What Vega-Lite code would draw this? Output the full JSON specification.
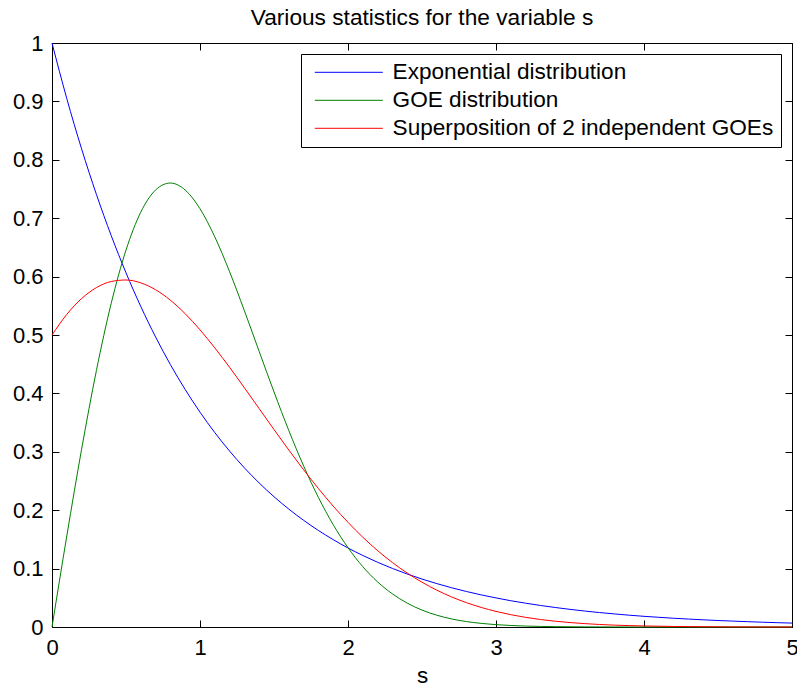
{
  "$schema": "https://vega.github.io/schema/vega-lite/v6.json",
  "width": 740,
  "height": 584,
  "autosize": {"type": "none"},
  "padding": {"left": 52, "top": 43, "right": 5, "bottom": 59},
  "background": "white",
  "config": {
    "font": "Liberation Sans",
    "view": {"stroke": "#000000", "strokeWidth": 1},
    "axis": {"labelFont": "Liberation Sans", "titleFont": "Liberation Sans", "labelColor": "#000000", "titleColor": "#000000", "tickColor": "#000000", "grid": false, "domain": false}
  },
  "title": {"text": "Various statistics for the variable s", "fontSize": 22.7, "fontWeight": "normal", "font": "Liberation Sans", "color": "#000000", "offset": 2, "anchor": "middle"},
  "data": {"values": [
    {"s":0,"p":1,"c":"Exponential distribution"},
    {"s":0.1,"p":0.9048,"c":"Exponential distribution"},
    {"s":0.2,"p":0.8187,"c":"Exponential distribution"},
    {"s":0.3,"p":0.7408,"c":"Exponential distribution"},
    {"s":0.4,"p":0.6703,"c":"Exponential distribution"},
    {"s":0.5,"p":0.6065,"c":"Exponential distribution"},
    {"s":0.6,"p":0.5488,"c":"Exponential distribution"},
    {"s":0.7,"p":0.4966,"c":"Exponential distribution"},
    {"s":0.8,"p":0.4493,"c":"Exponential distribution"},
    {"s":0.9,"p":0.4066,"c":"Exponential distribution"},
    {"s":1.0,"p":0.3679,"c":"Exponential distribution"},
    {"s":1.1,"p":0.3329,"c":"Exponential distribution"},
    {"s":1.2,"p":0.3012,"c":"Exponential distribution"},
    {"s":1.3,"p":0.2725,"c":"Exponential distribution"},
    {"s":1.4,"p":0.2466,"c":"Exponential distribution"},
    {"s":1.5,"p":0.2231,"c":"Exponential distribution"},
    {"s":1.6,"p":0.2019,"c":"Exponential distribution"},
    {"s":1.7,"p":0.1827,"c":"Exponential distribution"},
    {"s":1.8,"p":0.1653,"c":"Exponential distribution"},
    {"s":1.9,"p":0.1496,"c":"Exponential distribution"},
    {"s":2.0,"p":0.1353,"c":"Exponential distribution"},
    {"s":2.1,"p":0.1225,"c":"Exponential distribution"},
    {"s":2.2,"p":0.1108,"c":"Exponential distribution"},
    {"s":2.3,"p":0.1003,"c":"Exponential distribution"},
    {"s":2.4,"p":0.0907,"c":"Exponential distribution"},
    {"s":2.5,"p":0.0821,"c":"Exponential distribution"},
    {"s":2.6,"p":0.0743,"c":"Exponential distribution"},
    {"s":2.7,"p":0.0672,"c":"Exponential distribution"},
    {"s":2.8,"p":0.0608,"c":"Exponential distribution"},
    {"s":2.9,"p":0.0550,"c":"Exponential distribution"},
    {"s":3.0,"p":0.0498,"c":"Exponential distribution"},
    {"s":3.1,"p":0.0450,"c":"Exponential distribution"},
    {"s":3.2,"p":0.0408,"c":"Exponential distribution"},
    {"s":3.3,"p":0.0369,"c":"Exponential distribution"},
    {"s":3.4,"p":0.0334,"c":"Exponential distribution"},
    {"s":3.5,"p":0.0302,"c":"Exponential distribution"},
    {"s":3.6,"p":0.0273,"c":"Exponential distribution"},
    {"s":3.7,"p":0.0247,"c":"Exponential distribution"},
    {"s":3.8,"p":0.0224,"c":"Exponential distribution"},
    {"s":3.9,"p":0.0202,"c":"Exponential distribution"},
    {"s":4.0,"p":0.0183,"c":"Exponential distribution"},
    {"s":4.1,"p":0.0166,"c":"Exponential distribution"},
    {"s":4.2,"p":0.0150,"c":"Exponential distribution"},
    {"s":4.3,"p":0.0136,"c":"Exponential distribution"},
    {"s":4.4,"p":0.0123,"c":"Exponential distribution"},
    {"s":4.5,"p":0.0111,"c":"Exponential distribution"},
    {"s":4.6,"p":0.0101,"c":"Exponential distribution"},
    {"s":4.7,"p":0.0091,"c":"Exponential distribution"},
    {"s":4.8,"p":0.0082,"c":"Exponential distribution"},
    {"s":4.9,"p":0.0074,"c":"Exponential distribution"},
    {"s":5.0,"p":0.0067,"c":"Exponential distribution"},
    {"s":0,"p":0,"c":"GOE distribution"},
    {"s":0.1,"p":0.1559,"c":"GOE distribution"},
    {"s":0.2,"p":0.3044,"c":"GOE distribution"},
    {"s":0.3,"p":0.4391,"c":"GOE distribution"},
    {"s":0.4,"p":0.5541,"c":"GOE distribution"},
    {"s":0.5,"p":0.6454,"c":"GOE distribution"},
    {"s":0.6,"p":0.7104,"c":"GOE distribution"},
    {"s":0.7,"p":0.7483,"c":"GOE distribution"},
    {"s":0.8,"p":0.7602,"c":"GOE distribution"},
    {"s":0.9,"p":0.7483,"c":"GOE distribution"},
    {"s":1.0,"p":0.7162,"c":"GOE distribution"},
    {"s":1.1,"p":0.6680,"c":"GOE distribution"},
    {"s":1.2,"p":0.6083,"c":"GOE distribution"},
    {"s":1.3,"p":0.5415,"c":"GOE distribution"},
    {"s":1.4,"p":0.4718,"c":"GOE distribution"},
    {"s":1.5,"p":0.4025,"c":"GOE distribution"},
    {"s":1.6,"p":0.3365,"c":"GOE distribution"},
    {"s":1.7,"p":0.2759,"c":"GOE distribution"},
    {"s":1.8,"p":0.2219,"c":"GOE distribution"},
    {"s":1.9,"p":0.1752,"c":"GOE distribution"},
    {"s":2.0,"p":0.1358,"c":"GOE distribution"},
    {"s":2.1,"p":0.1033,"c":"GOE distribution"},
    {"s":2.2,"p":0.0772,"c":"GOE distribution"},
    {"s":2.3,"p":0.0567,"c":"GOE distribution"},
    {"s":2.4,"p":0.0409,"c":"GOE distribution"},
    {"s":2.5,"p":0.0290,"c":"GOE distribution"},
    {"s":2.6,"p":0.0202,"c":"GOE distribution"},
    {"s":2.7,"p":0.0138,"c":"GOE distribution"},
    {"s":2.8,"p":0.0093,"c":"GOE distribution"},
    {"s":2.9,"p":0.0062,"c":"GOE distribution"},
    {"s":3.0,"p":0.0040,"c":"GOE distribution"},
    {"s":3.1,"p":0.0026,"c":"GOE distribution"},
    {"s":3.2,"p":0.0016,"c":"GOE distribution"},
    {"s":3.3,"p":0.0010,"c":"GOE distribution"},
    {"s":3.4,"p":0.0006,"c":"GOE distribution"},
    {"s":3.5,"p":0.0004,"c":"GOE distribution"},
    {"s":3.6,"p":0.0002,"c":"GOE distribution"},
    {"s":3.8,"p":0.0001,"c":"GOE distribution"},
    {"s":4.0,"p":0.0000,"c":"GOE distribution"},
    {"s":4.5,"p":0.0000,"c":"GOE distribution"},
    {"s":5.0,"p":0.0000,"c":"GOE distribution"},
    {"s":0,"p":0.5,"c":"Superposition of 2 independent GOEs"},
    {"s":0.1,"p":0.5353,"c":"Superposition of 2 independent GOEs"},
    {"s":0.2,"p":0.5624,"c":"Superposition of 2 independent GOEs"},
    {"s":0.3,"p":0.5811,"c":"Superposition of 2 independent GOEs"},
    {"s":0.4,"p":0.5916,"c":"Superposition of 2 independent GOEs"},
    {"s":0.5,"p":0.5942,"c":"Superposition of 2 independent GOEs"},
    {"s":0.6,"p":0.5893,"c":"Superposition of 2 independent GOEs"},
    {"s":0.7,"p":0.5775,"c":"Superposition of 2 independent GOEs"},
    {"s":0.8,"p":0.5596,"c":"Superposition of 2 independent GOEs"},
    {"s":0.9,"p":0.5364,"c":"Superposition of 2 independent GOEs"},
    {"s":1.0,"p":0.5089,"c":"Superposition of 2 independent GOEs"},
    {"s":1.1,"p":0.4780,"c":"Superposition of 2 independent GOEs"},
    {"s":1.2,"p":0.4446,"c":"Superposition of 2 independent GOEs"},
    {"s":1.3,"p":0.4096,"c":"Superposition of 2 independent GOEs"},
    {"s":1.4,"p":0.3739,"c":"Superposition of 2 independent GOEs"},
    {"s":1.5,"p":0.3381,"c":"Superposition of 2 independent GOEs"},
    {"s":1.6,"p":0.3031,"c":"Superposition of 2 independent GOEs"},
    {"s":1.7,"p":0.2693,"c":"Superposition of 2 independent GOEs"},
    {"s":1.8,"p":0.2371,"c":"Superposition of 2 independent GOEs"},
    {"s":1.9,"p":0.2070,"c":"Superposition of 2 independent GOEs"},
    {"s":2.0,"p":0.1792,"c":"Superposition of 2 independent GOEs"},
    {"s":2.1,"p":0.1538,"c":"Superposition of 2 independent GOEs"},
    {"s":2.2,"p":0.1308,"c":"Superposition of 2 independent GOEs"},
    {"s":2.3,"p":0.1104,"c":"Superposition of 2 independent GOEs"},
    {"s":2.4,"p":0.0924,"c":"Superposition of 2 independent GOEs"},
    {"s":2.5,"p":0.0767,"c":"Superposition of 2 independent GOEs"},
    {"s":2.6,"p":0.0631,"c":"Superposition of 2 independent GOEs"},
    {"s":2.7,"p":0.0515,"c":"Superposition of 2 independent GOEs"},
    {"s":2.8,"p":0.0417,"c":"Superposition of 2 independent GOEs"},
    {"s":2.9,"p":0.0335,"c":"Superposition of 2 independent GOEs"},
    {"s":3.0,"p":0.0267,"c":"Superposition of 2 independent GOEs"},
    {"s":3.1,"p":0.0211,"c":"Superposition of 2 independent GOEs"},
    {"s":3.2,"p":0.0165,"c":"Superposition of 2 independent GOEs"},
    {"s":3.3,"p":0.0128,"c":"Superposition of 2 independent GOEs"},
    {"s":3.4,"p":0.0099,"c":"Superposition of 2 independent GOEs"},
    {"s":3.5,"p":0.0076,"c":"Superposition of 2 independent GOEs"},
    {"s":3.6,"p":0.0058,"c":"Superposition of 2 independent GOEs"},
    {"s":3.7,"p":0.0043,"c":"Superposition of 2 independent GOEs"},
    {"s":3.8,"p":0.0032,"c":"Superposition of 2 independent GOEs"},
    {"s":3.9,"p":0.0024,"c":"Superposition of 2 independent GOEs"},
    {"s":4.0,"p":0.0018,"c":"Superposition of 2 independent GOEs"},
    {"s":4.2,"p":0.0009,"c":"Superposition of 2 independent GOEs"},
    {"s":4.4,"p":0.0005,"c":"Superposition of 2 independent GOEs"},
    {"s":4.6,"p":0.0002,"c":"Superposition of 2 independent GOEs"},
    {"s":4.8,"p":0.0001,"c":"Superposition of 2 independent GOEs"},
    {"s":5.0,"p":0.0001,"c":"Superposition of 2 independent GOEs"}
  ]},
  "layer": [
    {
      "mark": {"type": "line", "strokeWidth": 1, "interpolate": "monotone"},
      "encoding": {
        "x": {"field": "s", "type": "quantitative", "scale": {"domain": [0, 5], "nice": false, "zero": false},
          "axis": {"orient": "bottom", "values": [0, 1, 2, 3, 4, 5], "format": "d", "labelFontSize": 22, "tickSize": -7, "tickWidth": 1, "labelPadding": 17, "labelFlush": false, "labelOverlap": false, "title": "s", "titleFontSize": 22.5, "titleFontWeight": "normal", "titlePadding": 6}},
        "y": {"field": "p", "type": "quantitative", "scale": {"domain": [0, 1], "nice": false},
          "axis": {"orient": "left", "values": [0, 0.1, 0.2, 0.3, 0.4, 0.5, 0.6, 0.7, 0.8, 0.9, 1], "format": "~g", "labelFontSize": 22, "tickSize": -7, "tickWidth": 1, "labelPadding": 16, "labelFlush": false, "labelOverlap": false, "title": null}},
        "color": {"field": "c", "type": "nominal",
          "scale": {"domain": ["Exponential distribution", "GOE distribution", "Superposition of 2 independent GOEs"], "range": ["#0000ff", "#008000", "#ff0000"]},
          "legend": {"title": null, "orient": "top-right", "offset": 11, "strokeColor": "#000000", "fillColor": "#ffffff", "padding": 7, "labelFontSize": 22.6, "labelFont": "Liberation Sans", "labelColor": "#000000", "symbolType": "M-5,0H5", "symbolSize": 185, "symbolStrokeWidth": 1, "symbolOffset": 29.5, "labelOffset": 32.5, "rowPadding": 5, "labelLimit": 1000}}
      }
    },
    {
      "mark": {"type": "line", "opacity": 0},
      "encoding": {
        "x": {"field": "s", "type": "quantitative", "axis": {"orient": "top", "values": [0, 1, 2, 3, 4, 5], "labels": false, "tickSize": 7, "tickWidth": 1, "title": null, "offset": -7}},
        "y": {"field": "p", "type": "quantitative", "axis": {"orient": "right", "values": [0, 0.1, 0.2, 0.3, 0.4, 0.5, 0.6, 0.7, 0.8, 0.9, 1], "labels": false, "tickSize": 7, "tickWidth": 1, "title": null, "offset": -7}}
      }
    }
  ],
  "resolve": {"axis": {"x": "independent", "y": "independent"}}
}
